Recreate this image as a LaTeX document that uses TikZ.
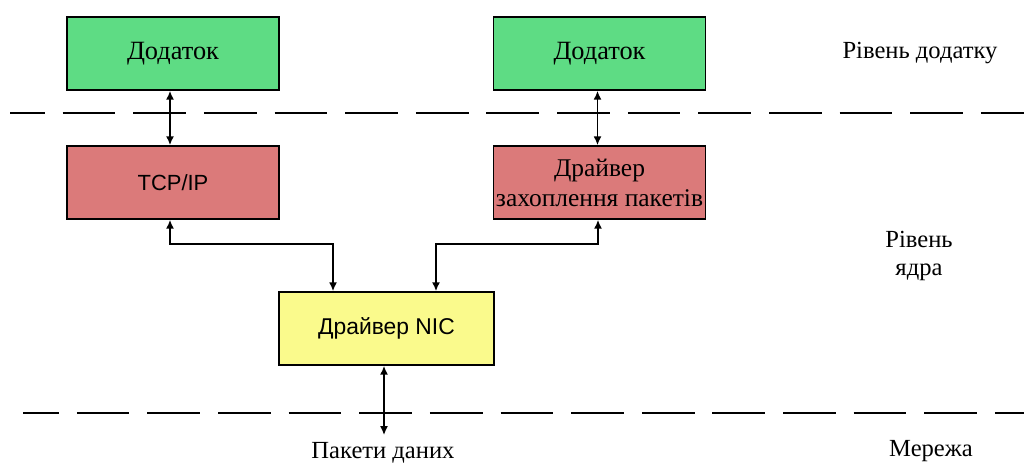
\documentclass[tikz,border=0pt]{standalone}
\usepackage{fontspec}
\setmainfont{Liberation Serif}
\newfontfamily\arialfont{Liberation Sans}
\usepackage{tikz}
\usetikzlibrary{arrows.meta,positioning}
\definecolor{zelenyj}{RGB}{94,220,132}
\definecolor{chervonyj}{RGB}{219,122,122}
\definecolor{zhovtyj}{RGB}{250,250,140}
\tikzset{
Blok/.style={
 draw=black,
 line width=1pt,
 minimum width=4.24cm,
 minimum height=1.46cm,
 inner sep=1pt,
 align=center,
 font=\fontsize{15}{16}\selectfont
 },
Dodatok/.style={Blok, fill=zelenyj},
Yadro/.style={Blok, fill=chervonyj},
Merezha/.style={Blok, fill=zhovtyj, minimum width=4.3cm},
DvoStril/.style={
 draw=black,
 line width=0.8pt,
 {Latex[length=5pt,width=4.5pt]}-{Latex[length=5pt,width=4.5pt]}
 },
Mezha/.style={
 draw=black,
 line width=0.75pt,
 dash pattern=on 30pt off 10.2pt
 },
Pidpys/.style={font=\fontsize{14}{16}\selectfont, align=center}
}

\begin{document}
\begin{tikzpicture}[x=0.02cm,y=-0.02cm]
\useasboundingbox (0,0) rectangle (1024,465);
\draw[Mezha, dash phase=10.2pt] (10,113) -- (1024,113);
\draw[Mezha, dash phase=9.6pt] (23,413) -- (1024,413);
\node[Dodatok] (appL) at (173,53.5) {Додаток};
\node[Dodatok] (appR) at (599.5,53.5) {Додаток};
\node[Yadro, font=\arialfont\fontsize{12.5}{14}\selectfont] (tcp) at (173,182.5) {TCP/IP};
\node[Yadro, font=\fontsize{14.5}{17}\selectfont] (zakh) at (599.5,182.5) {Драйвер\\захоплення пакетів};
\node[Merezha, font=\arialfont\fontsize{13}{15}\selectfont] (nic) at (386.5,328.5) {Драйвер NIC};
\node[Pidpys] (pak) at (383,453) {Пакети даних};
\node[Pidpys] (rivDod) at (920,53) {Рівень додатку};
\node[Pidpys] (rivYad) at (919,256) {Рівень\\ядра};
\node[Pidpys] (mer) at (931,451) {Мережа};
\coordinate (net) at (384,435);
\draw[DvoStril] ([xshift=-0.06cm]appL.south) -- ([xshift=-0.06cm]tcp.north);
\draw[DvoStril] ([xshift=-0.04cm]appR.south) -- ([xshift=-0.04cm]zakh.north);
\draw[DvoStril] ([xshift=-0.06cm]tcp.south) -- ++(0,24) -| ([xshift=-1.07cm]nic.north);
\draw[DvoStril] ([xshift=-0.03cm]zakh.south) -- ++(0,24) -| ([xshift=0.99cm]nic.north);
\draw[DvoStril] (nic.south -| net) -- (net);
\end{tikzpicture}
\end{document}
